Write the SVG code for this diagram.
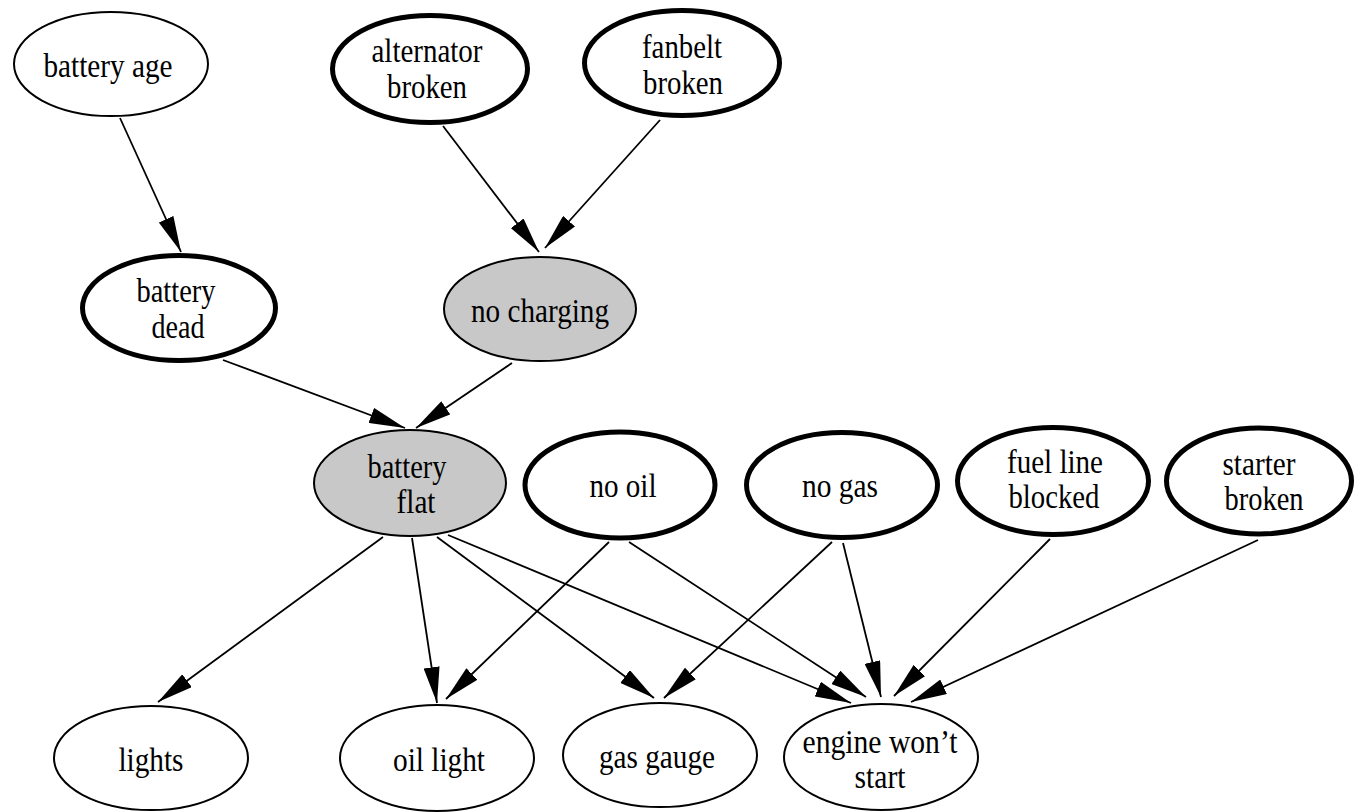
<svg xmlns="http://www.w3.org/2000/svg" width="1354" height="812" viewBox="0 0 1354 812">
<style>
.n{fill:#fff;stroke:#000;stroke-width:2}
.k{fill:#fff;stroke:#000;stroke-width:5}
.g{fill:#c8c8c8;stroke:#000;stroke-width:2}
text{font-family:"Liberation Serif","Times New Roman",serif;font-size:34px;fill:#000;text-anchor:middle}
.e line{stroke:#000;stroke-width:1.8;marker-end:url(#ah)}
</style>
<defs>
<marker id="ah" markerUnits="userSpaceOnUse" markerWidth="36" markerHeight="16" refX="36" refY="8" orient="auto">
<path d="M0,0 L36,8 L0,16 z" fill="#000"/>
</marker>
</defs>
<rect width="1354" height="812" fill="#fff"/>
<g class="e" id="edges">
<line x1="120" y1="118" x2="181" y2="252"/>
<line x1="443" y1="126" x2="539" y2="252"/>
<line x1="660" y1="120" x2="545" y2="248"/>
<line x1="223" y1="360" x2="405" y2="428"/>
<line x1="512" y1="363" x2="416" y2="428"/>
<line x1="383" y1="537" x2="158" y2="702"/>
<line x1="412" y1="538" x2="437" y2="703"/>
<line x1="437" y1="537" x2="654" y2="698"/>
<line x1="448" y1="535" x2="851" y2="703"/>
<line x1="609" y1="542" x2="446" y2="699"/>
<line x1="629" y1="542" x2="866" y2="697"/>
<line x1="832" y1="542" x2="664" y2="698"/>
<line x1="843" y1="543" x2="881" y2="697"/>
<line x1="1050" y1="539" x2="894" y2="696"/>
<line x1="1258" y1="540" x2="911" y2="702"/>
</g>
<g id="battery-age"><ellipse class="n" cx="111" cy="64" rx="97" ry="52"/><text x="108" y="77" textLength="129" lengthAdjust="spacingAndGlyphs">battery age</text></g>
<g id="alternator-broken"><ellipse class="k" cx="430" cy="69" rx="97.5" ry="53.5"/><text><tspan x="427" y="62" textLength="111" lengthAdjust="spacingAndGlyphs">alternator</tspan><tspan x="427" y="98" textLength="80" lengthAdjust="spacingAndGlyphs">broken</tspan></text></g>
<g id="fanbelt-broken"><ellipse class="k" cx="682" cy="63" rx="97.5" ry="52.5"/><text><tspan x="682" y="58" textLength="80" lengthAdjust="spacingAndGlyphs">fanbelt</tspan><tspan x="683" y="94" textLength="80" lengthAdjust="spacingAndGlyphs">broken</tspan></text></g>
<g id="battery-dead"><ellipse class="k" cx="179" cy="308" rx="96.5" ry="52.5"/><text><tspan x="176" y="302" textLength="79" lengthAdjust="spacingAndGlyphs">battery</tspan><tspan x="178" y="338" textLength="53" lengthAdjust="spacingAndGlyphs">dead</tspan></text></g>
<g id="no-charging"><ellipse class="g" cx="540" cy="309" rx="96" ry="52"/><text x="540" y="322" textLength="138" lengthAdjust="spacingAndGlyphs">no charging</text></g>
<g id="battery-flat"><ellipse class="g" cx="410" cy="483" rx="96" ry="53"/><text><tspan x="407" y="478" textLength="79" lengthAdjust="spacingAndGlyphs">battery</tspan><tspan x="416" y="513" textLength="39" lengthAdjust="spacingAndGlyphs">flat</tspan></text></g>
<g id="no-oil"><ellipse class="k" cx="620" cy="485" rx="95" ry="53"/><text x="623" y="497" textLength="67" lengthAdjust="spacingAndGlyphs">no oil</text></g>
<g id="no-gas"><ellipse class="k" cx="842" cy="485" rx="95.5" ry="52.5"/><text x="840" y="497" textLength="76" lengthAdjust="spacingAndGlyphs">no gas</text></g>
<g id="fuel-line-blocked"><ellipse class="k" cx="1053" cy="481" rx="95.5" ry="53.5"/><text><tspan x="1055" y="473" textLength="96" lengthAdjust="spacingAndGlyphs">fuel line</tspan><tspan x="1054" y="508" textLength="91" lengthAdjust="spacingAndGlyphs">blocked</tspan></text></g>
<g id="starter-broken"><ellipse class="k" cx="1259" cy="481" rx="92.5" ry="53"/><text><tspan x="1259" y="475" textLength="73" lengthAdjust="spacingAndGlyphs">starter</tspan><tspan x="1264" y="510" textLength="79" lengthAdjust="spacingAndGlyphs">broken</tspan></text></g>
<g id="lights"><ellipse class="n" cx="151" cy="758" rx="97" ry="52"/><text x="151" y="771" textLength="65" lengthAdjust="spacingAndGlyphs">lights</text></g>
<g id="oil-light"><ellipse class="n" cx="437" cy="758" rx="97" ry="53"/><text x="439" y="771" textLength="92" lengthAdjust="spacingAndGlyphs">oil light</text></g>
<g id="gas-gauge"><ellipse class="n" cx="660" cy="755" rx="97" ry="52"/><text x="657" y="768" textLength="116" lengthAdjust="spacingAndGlyphs">gas gauge</text></g>
<g id="engine-wont-start"><ellipse class="n" cx="881" cy="757" rx="97" ry="53"/><text><tspan x="880" y="753" textLength="155" lengthAdjust="spacingAndGlyphs">engine won’t</tspan><tspan x="880" y="788" textLength="51" lengthAdjust="spacingAndGlyphs">start</tspan></text></g>
</svg>
